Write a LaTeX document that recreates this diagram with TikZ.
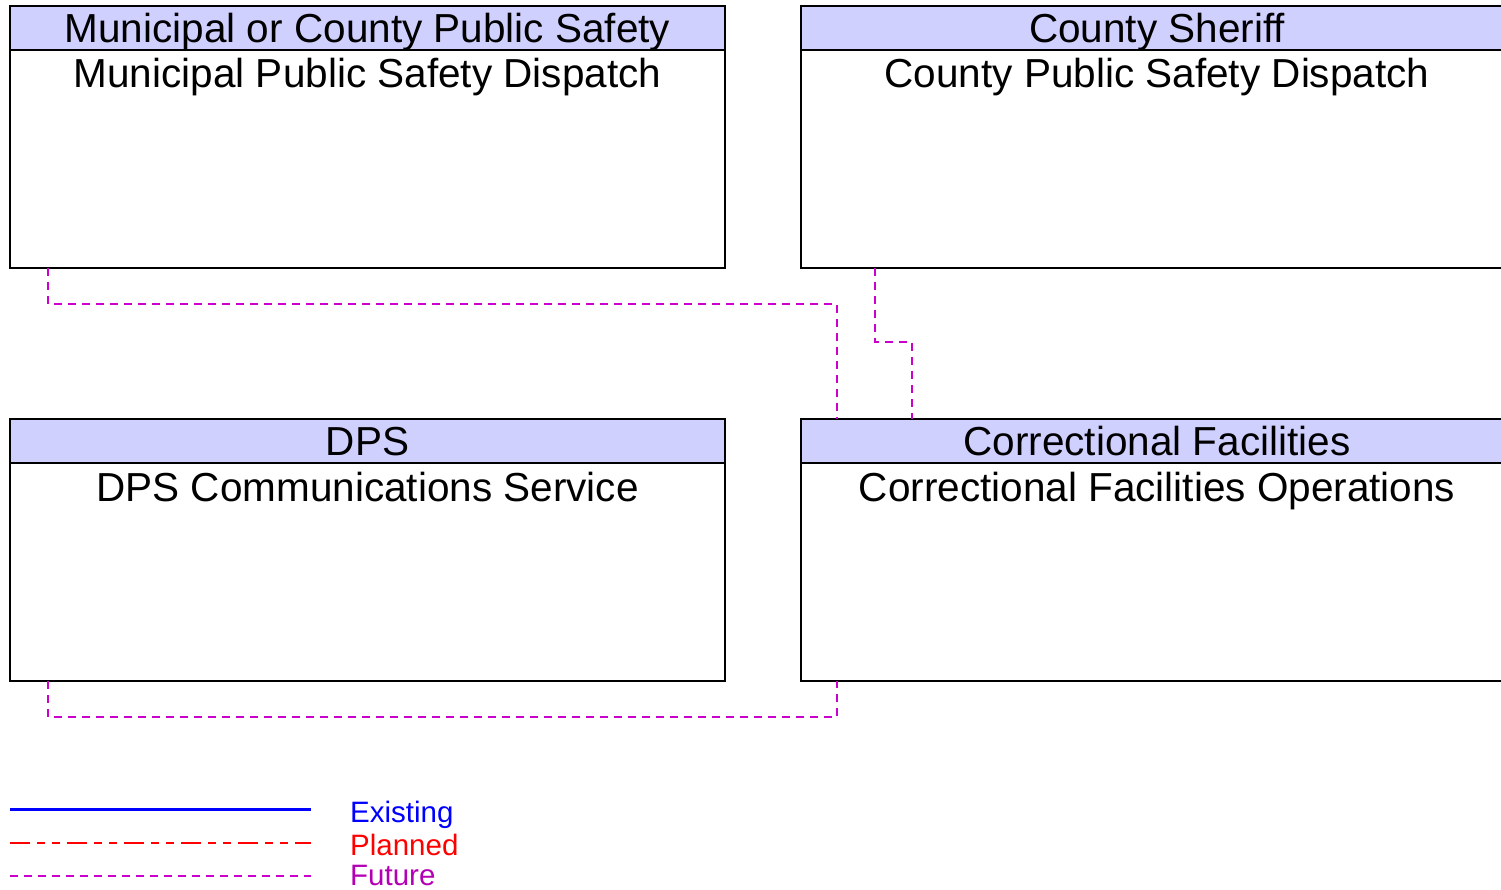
\documentclass[tikz,border=0pt]{standalone}
\usepackage{fontspec}
\setmainfont{Liberation Sans}
\begin{document}
\begin{tikzpicture}[x=1pt,y=-1pt,
  hdr/.style={draw=black,line width=1.4pt,fill=headfill},
  body/.style={draw=black,line width=1.4pt,fill=white},
  future/.style={draw=futurec,line width=1.5pt,dash pattern=on 8pt off 6pt},
  planned/.style={draw=red,line width=1.3pt,dash pattern=on 20pt off 7pt on 8pt off 7pt on 8pt off 7pt},
  existing/.style={draw=blue,line width=3pt},
  ttl/.style={font=\fontsize{40.5}{44}\selectfont,anchor=base,inner sep=0pt},
  leg/.style={font=\fontsize{29.5}{32}\selectfont,anchor=base west,inner sep=0pt}]
\definecolor{headfill}{RGB}{208,208,255}
\definecolor{futurec}{RGB}{204,0,204}
\definecolor{futuretext}{RGB}{180,0,180}
\useasboundingbox (0,0) rectangle (1501,890);
\clip (0,0) rectangle (1501,890);
% boxes
\draw[body] (10,6) rectangle (725,268);
\draw[hdr] (10,6) rectangle (725,50);
\draw[body] (801,6) rectangle (1510,268);
\draw[hdr] (801,6) rectangle (1510,50);
\draw[body] (10,419) rectangle (725,681);
\draw[hdr] (10,419) rectangle (725,463);
\draw[body] (801,419) rectangle (1510,681);
\draw[hdr] (801,419) rectangle (1510,463);
% labels
\node[ttl] (h1) at (367.5,43) {Municipal or County Public Safety};
\node[ttl] (b1) at (367.5,88) {Municipal Public Safety Dispatch};
\node[ttl] (h2) at (1157,43) {County Sheriff};
\node[ttl] (b2) at (1157,88) {County Public Safety Dispatch};
\node[ttl] (h3) at (367.5,455) {DPS};
\node[ttl] (b3) at (367.5,501) {DPS Communications Service};
\node[ttl] (h4) at (1157,455) {Correctional Facilities};
\node[ttl] (b4) at (1157,501) {Correctional Facilities Operations};
% anchors for connectors
\coordinate (m1) at (48,268);
\coordinate (c1) at (837,419);
\coordinate (s1) at (875,268);
\coordinate (c2) at (912,419);
\coordinate (d1) at (48,681);
\coordinate (c3) at (837,681);
\draw[future] (m1) -- (48,304) -- (837,304) -- (c1);
\draw[future] (s1) -- (875,342) -- (912,342) -- (c2);
\draw[future] (d1) -- (48,717) -- (837,717) -- (c3);
% legend
\coordinate (l1a) at (10,809); \coordinate (l1b) at (311,809);
\coordinate (l2a) at (10,843); \coordinate (l2b) at (311,843);
\coordinate (l3a) at (10,876); \coordinate (l3b) at (311,876);
\draw[existing] (l1a) -- (l1b);
\draw[planned] (l2a) -- (l2b);
\draw[future] (l3a) -- (l3b);
\node[leg,text=blue] (e) at (350,822) {Existing};
\node[leg,text=red] (p) at (350,855) {Planned};
\node[leg,text=futuretext] (f) at (350,885) {Future};
\end{tikzpicture}
\end{document}
